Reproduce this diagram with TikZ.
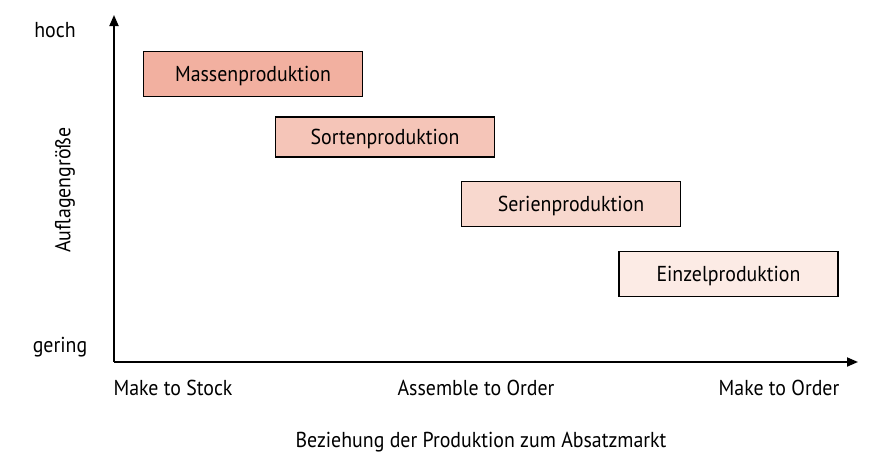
\documentclass[tikz,border=0pt]{standalone}
\usepackage{fontspec}
\setmainfont{PT Sans}[FakeStretch=0.92]
\usetikzlibrary{arrows.meta}
\definecolor{cA}{HTML}{F2B0A0}
\definecolor{cB}{HTML}{F5C5B8}
\definecolor{cC}{HTML}{F8D8CE}
\definecolor{cD}{HTML}{FCEBE5}
\begin{document}
\begin{tikzpicture}[x=1pt,y=-1pt,
  prodbox/.style={draw=black,line width=1.2pt,minimum width=219pt,minimum height=45pt,inner sep=0pt,text height=15pt,text depth=0pt,font=\fontsize{21.6}{24}\selectfont},
  lbl/.style={font=\fontsize{21.6}{24}\selectfont,inner sep=0pt},
  axis/.style={line width=1.8pt,-{Triangle[length=11pt,width=9pt]}}]
\useasboundingbox (0,0) rectangle (892,466);
\coordinate (O) at (114,362);
\coordinate (Y) at (114,15);
\coordinate (X) at (858,362);
\draw[axis] (O) -- (Y);
\draw[axis] (O) -- (X);
\node[prodbox,fill=cA] (m) at (253,74) {Massenproduktion};
\node[prodbox,fill=cB,minimum height=40pt] (s) at (385,137) {Sortenproduktion};
\node[prodbox,fill=cC] (r) at (571,204) {Serienproduktion};
\node[prodbox,fill=cD] (e) at (728.5,274) {Einzelproduktion};
\node[lbl] (hoch) at (55,30) {hoch};
\node[lbl] (gering) at (60,347) {gering};
\node[lbl,rotate=90] (auf) at (65,190) {Auflagengröße};
\node[lbl] (mts) at (173,388) {Make to Stock};
\node[lbl] (ato) at (476,388) {Assemble to Order};
\node[lbl] (mto) at (779,388) {Make to Order};
\node[lbl] (bez) at (481,442) {Beziehung der Produktion zum Absatzmarkt};
\end{tikzpicture}
\end{document}
